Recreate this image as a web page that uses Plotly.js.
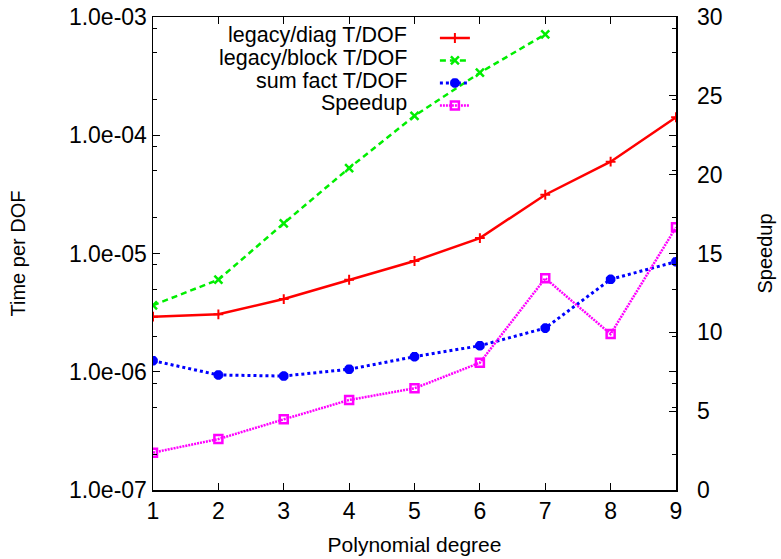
<!DOCTYPE html>
<html><head><meta charset="utf-8">
<script src="https://cdn.plot.ly/plotly-3.0.1.min.js"></script>
<style>html,body{margin:0;padding:0;background:#fff}#chart{width:781px;height:559px}</style>
</head><body><div id="chart"></div>
<script>
// ---- data ----
const degrees = [1, 2, 3, 4, 5, 6, 7, 8, 9];
const blockDegrees = [1, 2, 3, 4, 5, 6, 7];
const legacyDiag = [2.92e-6, 3.06e-6, 4.12e-6, 6.0e-6, 8.64e-6, 1.35e-5, 3.14e-5, 5.98e-5, 1.42e-4];
const legacyBlock = [3.65e-6, 6.0e-6, 1.80e-5, 5.28e-5, 1.46e-4, 3.38e-4, 7.14e-4];
const sumFact = [1.24e-6, 9.39e-7, 9.2e-7, 1.05e-6, 1.34e-6, 1.66e-6, 2.34e-6, 6.05e-6, 8.52e-6];
const speedup = [2.37, 3.23, 4.48, 5.71, 6.45, 8.07, 13.43, 9.89, 16.66];

const seriesNames = ['legacy/diag T/DOF', 'legacy/block T/DOF', 'sum fact T/DOF', 'Speedup'];
const timeTickVals = [1e-7, 1e-6, 1e-5, 1e-4, 1e-3];
const timeTickText = ['1.0e-07', '1.0e-06', '1.0e-05', '1.0e-04', '1.0e-03'];
const timeMinorVals = [2e-7, 5e-7, 8e-7, 2e-6, 5e-6, 8e-6, 2e-5, 5e-5, 8e-5, 2e-4, 5e-4, 8e-4];
const speedupTickVals = [0, 5, 10, 15, 20, 25, 30];
const xTitle = 'Polynomial degree';
const yTitle = 'Time per DOF';
const y2Title = 'Speedup';

const FONT = 'Liberation Sans, Arial, Helvetica, sans-serif';

const traces = [
  {
    x: degrees, y: legacyDiag, type: 'scatter', mode: 'lines+markers', name: '',
    line: {color: '#ff0000', width: 2.5},
    marker: {symbol: 'cross-thin-open', size: 7, color: '#ff0000', line: {color: '#ff0000', width: 2}}
  },
  {
    x: blockDegrees, y: legacyBlock, type: 'scatter', mode: 'lines+markers', name: '',
    line: {color: '#00ee00', width: 2.5, dash: '6px,4px'},
    marker: {symbol: 'x-thin-open', size: 8, color: '#00ee00', line: {color: '#00ee00', width: 2.5}}
  },
  {
    x: degrees, y: sumFact, type: 'scatter', mode: 'lines+markers', name: '',
    line: {color: '#0000ff', width: 3, dash: '3px,3px'},
    marker: {symbol: 'asterisk-open', size: 8, color: '#0000ff', line: {color: '#0000ff', width: 3.5}}
  },
  {
    x: degrees, y: speedup, type: 'scatter', mode: 'lines+markers', name: '', yaxis: 'y2',
    line: {color: '#ff00ff', width: 2.5, dash: '2px,1px'},
    marker: {symbol: 'square-open', size: 8, color: '#ff00ff', line: {color: '#ff00ff', width: 2.5}}
  }
];

const legendRowsY = [0.9619, 0.9137, 0.8655, 0.8173];
const annotations = seriesNames.map((n, i) => ({
  text: n, xref: 'paper', yref: 'paper', x: 0.4895, y: legendRowsY[i],
  xanchor: 'right', yanchor: 'middle', showarrow: false,
  font: {family: FONT, size: 21.5, color: '#000'}
}));

const layout = {
  width: 781, height: 559,
  margin: {l: 153, r: 105, t: 17, b: 69, pad: 0},
  paper_bgcolor: '#ffffff', plot_bgcolor: '#ffffff',
  font: {family: FONT, size: 22, color: '#000'},
  showlegend: true,
  legend: {
    x: 0.539, xanchor: 'left', y: 0.99, yanchor: 'top',
    bgcolor: 'rgba(0,0,0,0)', borderwidth: 0,
    font: {family: FONT, size: 15}, itemwidth: 30, tracegroupgap: 0
  },
  xaxis: {
    range: [1, 9], tickvals: degrees, ticks: 'inside', ticklen: 7, tickwidth: 1, tickcolor: '#000',
    showline: true, linecolor: '#000', linewidth: 1.5, mirror: 'ticks',
    showgrid: false, zeroline: false, fixedrange: true,
    tickfont: {family: FONT, size: 23},
    title: {text: xTitle, font: {family: FONT, size: 21}, standoff: 14}
  },
  yaxis: {
    type: 'log', range: [-7, -3], tickvals: timeTickVals, ticktext: timeTickText,
    ticks: 'inside', ticklen: 7, tickwidth: 1, tickcolor: '#000',
    minor: {tickvals: timeMinorVals, ticks: 'inside', ticklen: 4, tickwidth: 1, tickcolor: '#000', showgrid: false},
    showline: true, linecolor: '#000', linewidth: 1.5, mirror: 'ticks',
    showgrid: false, zeroline: false, fixedrange: true,
    tickfont: {family: FONT, size: 23},
    title: {text: yTitle, font: {family: FONT, size: 20}, standoff: 38}
  },
  yaxis2: {
    overlaying: 'y', side: 'right', range: [0, 30], tickvals: speedupTickVals,
    ticks: 'inside', ticklen: 7, tickwidth: 1, tickcolor: '#000',
    showline: false, showgrid: false, zeroline: false, fixedrange: true,
    ticklabelstandoff: 20,
    tickfont: {family: FONT, size: 23},
    title: {text: y2Title, font: {family: FONT, size: 20}, standoff: 36}
  },
  annotations: annotations
};

Plotly.newPlot('chart', traces, layout, {displayModeBar: false, staticPlot: true});
</script>
</body></html>
